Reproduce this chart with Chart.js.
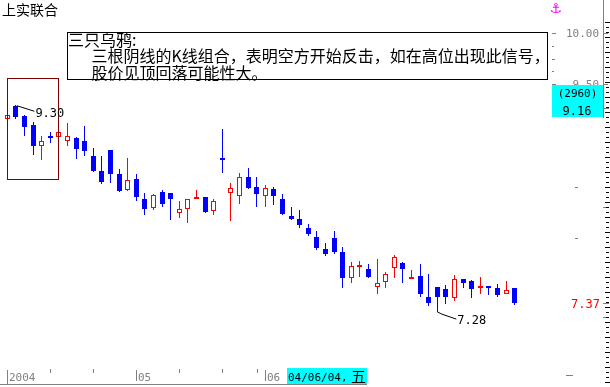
<!DOCTYPE html>
<html><head><meta charset="utf-8">
<script src="https://cdn.jsdelivr.net/npm/chart.js@4.4.1/dist/chart.umd.min.js"></script>
<style>html,body{margin:0;padding:0;background:#fff;overflow:hidden}#wrap{position:relative;width:610px;height:387px}</style>
</head><body><div id="wrap"><canvas id="c"></canvas></div>
<script>
const stockName = '上实联合';
const opens  = [9.16,9.29,9.19,9.10,8.90,9.00,8.99,8.95,8.98,8.95, 8.80,8.65,8.86,8.62,8.47,8.58,8.38,8.29,8.45,8.44, 8.24,8.28,8.38,8.40,8.26,8.78,8.44,8.41,8.60,8.50, 8.41,8.48,8.38,8.21,8.19,8.10,8.01,7.89,8.00,7.86, 7.61,7.72,7.70,7.52,7.57,7.71,7.76,7.60,7.63,7.42, 7.52,7.50,7.41,7.60,7.58,7.51,7.53,7.51,7.45,7.51];
const highs  = [9.21,9.30,9.20,9.13,9.00,9.03,9.10,9.12,8.99,9.09, 8.88,8.80,8.86,8.67,8.78,8.62,8.44,8.43,8.47,8.44, 8.36,8.38,8.47,8.40,8.38,9.06,8.54,8.63,8.68,8.60, 8.52,8.50,8.43,8.30,8.27,8.14,8.07,7.95,8.07,7.91, 7.77,7.78,7.75,7.80,7.67,7.83,7.77,7.69,7.75,7.65, 7.52,7.54,7.64,7.60,7.59,7.62,7.53,7.55,7.58,7.51];
const lows   = [9.15,9.16,9.00,8.81,8.76,8.93,8.91,8.90,8.77,8.80, 8.64,8.53,8.54,8.45,8.46,8.36,8.22,8.27,8.30,8.18, 8.20,8.15,8.38,8.24,8.22,8.63,8.17,8.33,8.48,8.30, 8.30,8.32,8.22,8.18,8.10,8.02,7.88,7.82,7.84,7.51, 7.56,7.62,7.61,7.45,7.51,7.61,7.56,7.60,7.42,7.34, 7.28,7.36,7.39,7.51,7.41,7.45,7.44,7.42,7.45,7.35];
const closes = [9.20,9.18,9.08,8.90,8.95,8.98,9.03,9.00,8.87,8.85, 8.65,8.55,8.62,8.46,8.57,8.40,8.28,8.42,8.33,8.38, 8.28,8.38,8.40,8.25,8.36,8.76,8.49,8.60,8.49,8.43, 8.49,8.41,8.23,8.19,8.13,8.04,7.90,7.84,7.86,7.61, 7.73,7.74,7.62,7.56,7.65,7.81,7.70,7.62,7.45,7.37, 7.42,7.42,7.60,7.56,7.50,7.53,7.515,7.44,7.49,7.37];
const tickIndices = [0,5,10,15,20,25,29,30];
const tickLabels  = ['2004','','','05','','','','06'];
const priceAxisLabels = [10.00, 9.50];
const priceAxisMinor  = [9.875, 9.75, 9.625];
const priceSideTicks  = [8.5, 8.0];
const highMark = {index: 1, value: 9.30, text: '9.30'};
const lowMark  = {index: 50, value: 7.28, text: '7.28'};
const lastPrice = '7.37';
const cursorVolume = '(2960)';
const cursorPrice = '9.16';
const cursorDate = '04/06/04,';
const cursorWeekday = '五';
const patternTitle = '三只乌鸦:';
const patternLines = ['三根阴线的K线组合，表明空方开始反击，如在高位出现此信号，', '股价见顶回落可能性大。'];
const patternRange = [0, 6];

const UP = '#ff0000', DOWN = '#0000ff', GRAY = '#808080';
const idx = opens.map((_, i) => i);
const isUp = idx.map(i => closes[i] >= opens[i]);
const bodyData = idx.map(i => ({x: i, y: [opens[i], closes[i]]}));
const wickData = idx.map(i => ({x: i, y: [lows[i], highs[i]]}));

const MONO = '"DejaVu Sans Mono", monospace';
const CJK = '"Noto Sans CJK SC", sans-serif';

// snap candle centres to pixel grid so 1px wicks stay crisp
const snap = {
  id: 'snap',
  beforeDatasetsDraw(chart) {
    chart.data.datasets.forEach((ds, di) => {
      chart.getDatasetMeta(di).data.forEach(el => {
        el.x = Math.round(el.x - 0.5) + 0.5;
        el.y = Math.round(el.y); el.base = Math.round(el.base);
        if (el.y === el.base) el.base += 1;
      });
    });
  }
};

const decor = {
  id: 'decor',
  afterDatasetsDraw(chart) {
    const ctx = chart.ctx, xs = chart.scales.x, ys = chart.scales.y;
    const X = v => xs.getPixelForValue(v), Y = v => ys.getPixelForValue(v);
    ctx.save();
    ctx.textAlign = 'left'; ctx.textBaseline = 'alphabetic';
    // title
    ctx.fillStyle = '#000'; ctx.font = '14px ' + CJK;
    ctx.fillText(stockName, 2, 14.5);
    // anchor
    ctx.fillStyle = '#ff00ff'; ctx.font = 'bold 14px "DejaVu Sans"'; ctx.textAlign = 'center';
    ctx.fillText('\u2693', 556, 13);
    ctx.textAlign = 'left';
    // pattern box (red)
    ctx.strokeStyle = '#800000'; ctx.lineWidth = 1;
    const bx0 = Math.round(X(patternRange[0])) + 0.5, bx1 = Math.round(X(patternRange[1]) - 1) + 0.5;
    const by0 = Math.round(Y(9.56)) + 0.5, by1 = Math.round(Y(8.575)) + 0.5;
    ctx.strokeRect(bx0, by0, bx1 - bx0, by1 - by0);
    // annotation box
    ctx.fillStyle = '#fff'; ctx.fillRect(67.5, 32.5, 480, 47);
    ctx.strokeStyle = '#000'; ctx.strokeRect(67.5, 32.5, 480, 47);
    ctx.fillStyle = '#000'; ctx.font = '16px ' + CJK;
    ctx.fillText(patternTitle, 68, 45.5);
    ctx.fillText(patternLines[0], 91.5, 62);
    ctx.fillText(patternLines[1], 91.5, 78.5);
    // high mark
    const hx = X(highMark.index), hy = Y(highMark.value);
    ctx.strokeStyle = '#000'; ctx.lineWidth = 1;
    ctx.beginPath(); ctx.moveTo(hx + 1, hy + 1); ctx.lineTo(hx + 18.5, hy + 6.5); ctx.stroke();
    ctx.font = '12px ' + MONO; ctx.fillStyle = '#000';
    ctx.fillText(highMark.text, hx + 19.5, hy + 12.3);
    // low mark
    const lx = X(lowMark.index), ly = Y(lowMark.value);
    ctx.beginPath(); ctx.moveTo(lx, ly); ctx.lineTo(lx + 4.5, ly + 2.3); ctx.lineTo(lx + 19, ly + 7.3); ctx.stroke();
    ctx.fillText(lowMark.text, lx + 20, ly + 12.6);
    // price axis
    ctx.fillStyle = GRAY; ctx.font = '11px ' + MONO; ctx.textAlign = 'right';
    priceAxisLabels.forEach(v => {
      const py = Math.round(Y(v));
      ctx.fillText(v.toFixed(2), 599, py + 4);
      ctx.fillRect(552, py, 4, 1);
      ctx.fillRect(603, py, 5, 1);
    });
    priceAxisMinor.forEach((v, k) => { ctx.fillRect(552, Math.round(Y(v)), k === 1 ? 3 : 2, 1); });
    priceSideTicks.forEach(v => ctx.fillRect(575, Math.round(Y(v)), 3, 1));
    ctx.fillRect(566, Math.round(Y(6.66)), 7, 1);
    // right strip
    ctx.fillRect(603, 0, 1, 118);
    [108, 207, 303, 317].forEach(py => ctx.fillRect(603, py, 6, 1));
    ctx.fillStyle = '#000';
    for (let py = 22, k = 0; py < 387; py += 5, k++) ctx.fillRect(k % 3 === 0 ? 605 : 606, py, k % 3 === 0 ? 5 : 3, 1);
    // cursor price box
    ctx.fillStyle = '#00ffff'; ctx.fillRect(552, 85, 51, 32);
    ctx.fillStyle = '#000'; ctx.textAlign = 'center';
    ctx.font = '11px ' + MONO; ctx.fillText(cursorVolume, 577.5, 97);
    ctx.font = '12px ' + MONO; ctx.fillText(cursorPrice, 577, 115);
    // last price
    ctx.fillStyle = UP; ctx.textAlign = 'right'; ctx.font = '12px ' + MONO;
    ctx.fillText(lastPrice, 600, Y(parseFloat(lastPrice)) + 5.5);
    // x axis
    ctx.fillStyle = GRAY; ctx.fillRect(0, 384, 367, 1);
    ctx.textAlign = 'left'; ctx.font = '11px ' + MONO;
    tickIndices.forEach((t, k) => {
      const tx = Math.round(X(t));
      if (tickLabels[k]) {
        ctx.fillRect(tx, 370, 1, k === 0 ? 14 : 11);
        ctx.fillText(tickLabels[k], tx + 2, 381);
      } else {
        ctx.fillRect(tx, 369, 1, 4);
      }
    });
    // cursor date box
    ctx.fillStyle = '#00ffff'; ctx.fillRect(287, 368, 80, 16);
    ctx.fillStyle = '#000'; ctx.font = '11px ' + MONO;
    ctx.fillText(cursorDate, 288, 381);
    ctx.font = '15px ' + CJK; ctx.fillText(cursorWeekday, 351, 382);
    ctx.restore();
  }
};

new Chart(document.getElementById('c'), {
  type: 'bar',
  data: {
    datasets: [
      {
        label: 'body', data: bodyData, order: 0, grouped: false, barThickness: 5,
        backgroundColor: idx.map(i => isUp[i] ? '#ffffff' : DOWN),
        borderColor: idx.map(i => isUp[i] ? UP : DOWN),
        borderWidth: 1, borderSkipped: false, inflateAmount: 0
      },
      {
        label: 'wick', data: wickData, order: 1, grouped: false, barThickness: 1,
        backgroundColor: idx.map(i => isUp[i] ? UP : DOWN),
        borderWidth: 0, borderSkipped: false, inflateAmount: 0
      }
    ]
  },
  options: {
    responsive: true, maintainAspectRatio: false, devicePixelRatio: 1, animation: false,
    layout: {padding: 0},
    plugins: {legend: {display: false}, tooltip: {enabled: false}},
    events: [],
    scales: {
      x: {type: 'linear', min: -7.3 / 8.6, max: (610 - 7.3) / 8.6, display: false, offset: false},
      y: {type: 'linear', min: 10 - 354 / 102.5, max: 10 + 33 / 102.5, display: false}
    }
  },
  plugins: [snap, decor]
});
</script></body></html>
